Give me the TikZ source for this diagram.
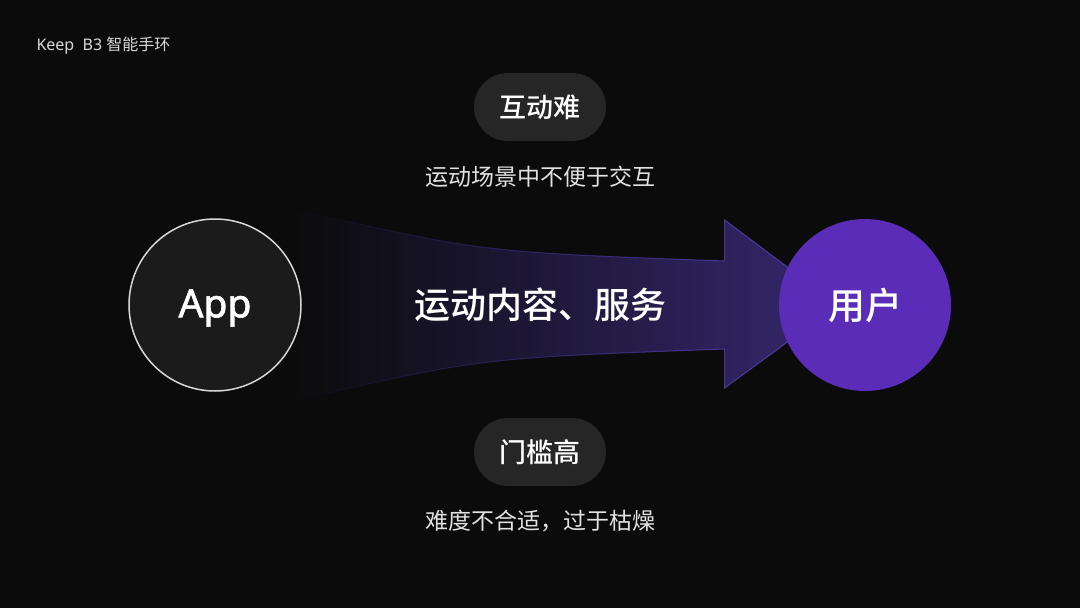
\documentclass[tikz,border=0pt]{standalone}
\usepackage{fontspec}
\setmainfont{Noto Sans}
\newfontfamily\latinsemi{Noto Sans}[AutoFakeBold=1.6]
\newfontfamily\cjk{Noto Sans CJK SC}
\newfontfamily\cjkmid{Noto Sans CJK SC Medium}
\usetikzlibrary{backgrounds, fadings, positioning}
\definecolor{bgdark}{HTML}{0B0B0B}
\definecolor{appfill}{HTML}{1B1B1B}
\definecolor{appring}{HTML}{D8D8D8}
\definecolor{userpurple}{HTML}{5B2CB8}
\definecolor{flowend}{HTML}{35276F}
\definecolor{flowedge}{HTML}{5140B0}
\definecolor{pillgray}{HTML}{262626}
\definecolor{notegray}{HTML}{E2E2E2}
\tikzset{
  hub/.style={circle, minimum size=172pt, inner sep=0pt, text=white,
    font=\fontsize{37}{40}\selectfont\cjkmid},
  pill/.style={rounded corners=34pt, fill=pillgray, minimum width=132pt,
    minimum height=68pt, text=white, font=\fontsize{27}{30}\selectfont\cjkmid},
  note/.style={text=notegray, font=\fontsize{23}{26}\selectfont\cjk},
  flowband/.style={left color=bgdark, right color=flowend},
  flowrim/.style={draw=flowedge, line width=1pt, path fading=west}
}

\begin{document}
\begin{tikzpicture}[x=1pt, y=-1pt]
% main nodes
\node[hub, fill=appfill, draw=appring, line width=1.5pt] (app) at (215,305) {};
\node[text=white, font=\fontsize{39}{42}\selectfont\latinsemi\bfseries]
  (apptext) at (215,308) {App};
\node[hub, fill=userpurple] (user) at (865,305) {用户};
\node[text=white, font=\fontsize{36}{40}\selectfont\cjkmid] (flow) at (540,305) {运动内容、服务};

% issues above and below
\node[pill] (hard) at (540,107) {互动难};
\node[note] (hardnote) at (540,177) {运动场景中不便于交互};
\node[pill] (gate) at (540,452) {门槛高};
\node[note] (gatenote) at (540,521) {难度不合适，过于枯燥};

\node[anchor=west, text=appring, font=\fontsize{16}{18}\selectfont] (title) at (33,46)
  {Keep\ \ B3 {\cjk 智能手环}};

\begin{scope}[on background layer]
\fill[bgdark] (0,0) rectangle (1080,608);
\fill[flowband] (290,208) .. controls (480,252) .. (725,261) -- (725,220)
  -- (838,305) -- (725,388) -- (725,349) .. controls (480,358) .. (290,402) -- cycle;
\path[flowrim] (290,208) .. controls (480,252) .. (725,261) -- (725,220)
  -- (838,305) -- (725,388) -- (725,349) .. controls (480,358) .. (290,402);
\end{scope}
\end{tikzpicture}
\end{document}
